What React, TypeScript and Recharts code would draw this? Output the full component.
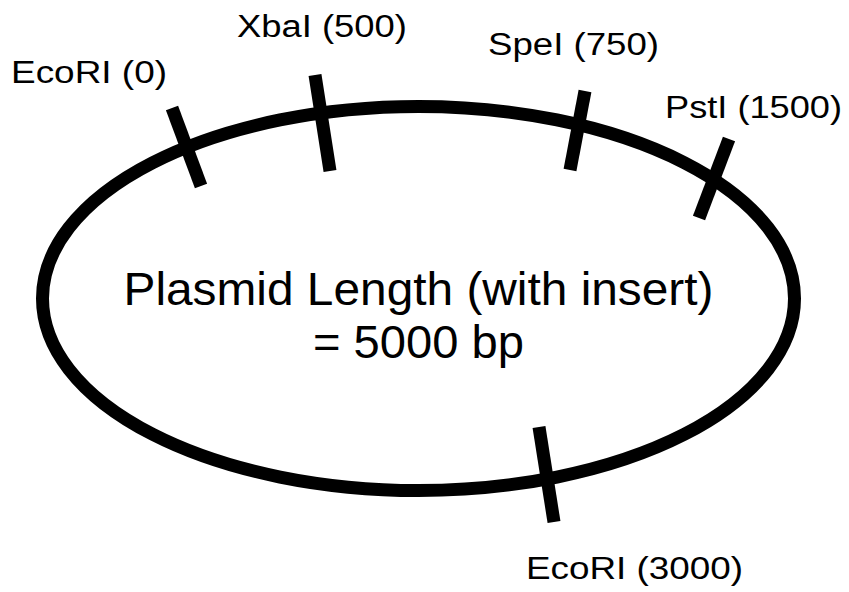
import { ScatterChart, Scatter, XAxis, YAxis, ReferenceArea, ReferenceLine } from "recharts"

// map units = pixels of the 849x592 figure, y grows downwards
const W = 849
const H = 592
const FONT = '"Liberation Sans", Arial, Helvetica, sans-serif'

const PLASMID_BP = 5000
const SITE_NAMES = ["EcoRI", "XbaI", "SpeI", "PstI", "EcoRI"]
const SITE_BP = [0, 500, 750, 1500, 3000]

// cut-site ticks: upper end and lower end on the map
const TICK_TOP_X = [172, 315, 585, 729, 539]
const TICK_TOP_Y = [108, 75, 91, 139, 427]
const TICK_BOT_X = [201, 330, 570, 699, 554]
const TICK_BOT_Y = [186, 171, 170, 218, 522]

// label anchors (left edge, baseline) and drawn text width
const LABEL_X = [11, 237, 488, 665, 526]
const LABEL_Y = [83, 37, 55, 118, 579]
const LABEL_W = [156, 170, 171, 177, 217]

// plasmid ring
const RING_CX = 418.5
const RING_CY = 298.5
const RING_RX = 376
const RING_RY = 192

const CENTER_LINES = ["Plasmid Length (with insert)", `= ${PLASMID_BP} bp`]
const CENTER_Y = [305, 358]
const CENTER_W = [590, 211]

const labelData = SITE_NAMES.map((n, i) => ({
  x: LABEL_X[i], y: LABEL_Y[i], text: `${n} (${SITE_BP[i]})`, w: LABEL_W[i],
}))

const centerData = CENTER_LINES.map((t, i) => ({
  x: RING_CX, y: CENTER_Y[i], text: t, w: CENTER_W[i],
}))

const Ring = (p: any) => (
  <ellipse
    cx={p.x + p.width / 2} cy={p.y + p.height / 2}
    rx={p.width / 2} ry={p.height / 2}
    fill="none" stroke="#000" strokeWidth={13}
  />
)

const SiteLabel = (p: any) => (
  <text
    x={p.cx} y={p.cy} fontSize={31} fontFamily={FONT} fill="#000"
    textLength={p.payload.w} lengthAdjust="spacingAndGlyphs"
  >
    {p.payload.text}
  </text>
)

const CenterLabel = (p: any) => (
  <text
    x={p.cx} y={p.cy} fontSize={47} fontFamily={FONT} fill="#000" textAnchor="middle"
    textLength={p.payload.w} lengthAdjust="spacingAndGlyphs"
  >
    {p.payload.text}
  </text>
)

export default function App() {
  return (
    <div style={{ position: "absolute", left: 0, top: 0, width: W, height: H, background: "#fff" }}>
      <ScatterChart width={W} height={H} margin={{ top: 0, right: 0, bottom: 0, left: 0 }}>
        <XAxis type="number" dataKey="x" domain={[0, W]} hide allowDataOverflow />
        <YAxis type="number" dataKey="y" domain={[0, H]} reversed hide allowDataOverflow />

        <ReferenceArea
          x1={RING_CX - RING_RX} x2={RING_CX + RING_RX}
          y1={RING_CY - RING_RY} y2={RING_CY + RING_RY}
          shape={Ring}
        />

        {SITE_NAMES.map((n, i) => (
          <ReferenceLine
            key={`${n}-${SITE_BP[i]}`}
            segment={[
              { x: TICK_TOP_X[i], y: TICK_TOP_Y[i] },
              { x: TICK_BOT_X[i], y: TICK_BOT_Y[i] },
            ]}
            stroke="#000"
            strokeWidth={13}
          />
        ))}

        <Scatter data={labelData} shape={SiteLabel} isAnimationActive={false} />
        <Scatter data={centerData} shape={CenterLabel} isAnimationActive={false} />
      </ScatterChart>
    </div>
  )
}
